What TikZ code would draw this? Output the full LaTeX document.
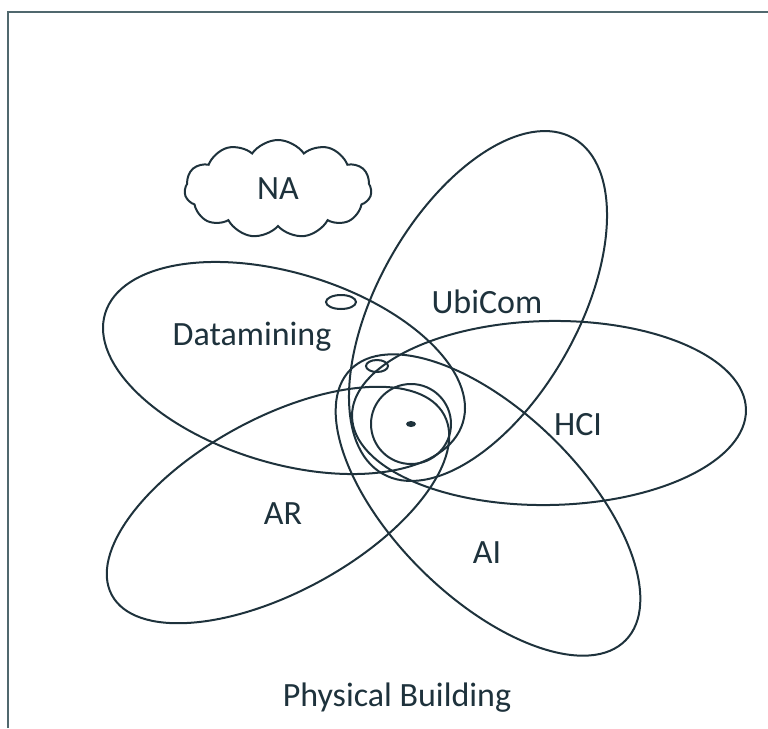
\documentclass[tikz,border=0pt]{standalone}
\usepackage{fontspec}
\setmainfont{Carlito}
\usetikzlibrary{shapes.symbols}
\definecolor{ink}{RGB}{30,50,60}
\definecolor{rim}{RGB}{80,104,110}

\begin{document}
\begin{tikzpicture}[x=1pt, y=-1pt, line width=2pt,
	petal/.style={draw=ink},
	lbl/.style={text=ink, font=\fontsize{34}{40}\selectfont}]
	\useasboundingbox (0,0) rectangle (768,728);
	\draw[rim, line width=2.6pt] (8,728) -- (8,12) -- (768,12);

	% petals
	\draw[petal, rotate around={-17:(284,368)}] (284,368) ellipse [x radius=187, y radius=95];
	\draw[petal, rotate around={60.4:(478,306)}] (478,306) ellipse [x radius=193, y radius=100];
	\draw[petal, rotate around={1:(549,413)}] (549,413) ellipse [x radius=197, y radius=92];
	\draw[petal, rotate around={28.5:(278,505)}] (278,505) ellipse [x radius=189, y radius=87];
	\draw[petal, rotate around={-44.5:(488,505)}] (488,505) ellipse [x radius=193, y radius=93];

	% core
	\draw[petal] (411,424) circle [radius=40];
	\draw[petal] (341,302) ellipse [x radius=15, y radius=7];
	\draw[petal] (377,366) ellipse [x radius=11, y radius=6];
	\fill[ink] (411,424) ellipse [x radius=5, y radius=3];

	\node[cloud, draw=ink, cloud puffs=11, cloud puff arc=110, aspect=1.9,
		minimum width=187pt, minimum height=98pt, lbl] (na) at (278,189) {NA};
	\node[lbl] (dm) at (252,337) {Datamining};
	\node[lbl] (ubi) at (487,302) {UbiCom};
	\node[lbl] (hci) at (578,425) {HCI};
	\node[lbl] (ar) at (283,514) {AR};
	\node[lbl] (ai) at (487,553) {AI};
	\node[lbl] (pb) at (397,698) {Physical Building};
\end{tikzpicture}
\end{document}
